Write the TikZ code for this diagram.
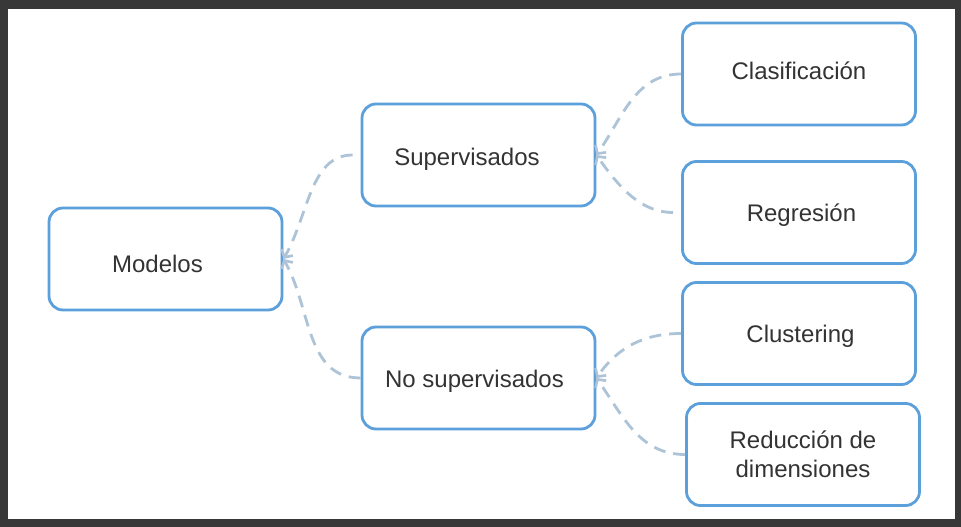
\documentclass[tikz,border=0pt]{standalone}
\usepackage{fontspec}
\setmainfont{Liberation Sans}
\usetikzlibrary{arrows.meta}
\definecolor{framec}{HTML}{383838}
\definecolor{boxblue}{HTML}{5B9FDB}
\definecolor{connc}{HTML}{ADC3D8}
\definecolor{txt}{HTML}{333333}
\begin{document}
\begin{tikzpicture}[x=1pt,y=-1pt,
  box/.style={draw=boxblue, line width=2.8pt, rounded corners=14pt, fill=white,
    minimum width=233pt, minimum height=102pt, inner sep=0pt},
  lbl/.style={font=\fontsize{24}{29}\selectfont, text=txt, align=center, inner sep=0pt, anchor=base},
  link/.style={draw=connc, line width=2.8pt, dash pattern=on 12pt off 8pt,
    -{Straight Barb[length=6pt,width=13pt,line width=2.6pt]}}]
\useasboundingbox (0,0) rectangle (961,527);
\fill[framec] (0,0) rectangle (961,527);
\fill[white] (8,9) rectangle (955,519);
% boxes
\node[box] (mod) at (165.5,259) {};
\node[box] (sup) at (478.5,155) {};
\node[box] (nosup) at (478.5,378) {};
\node[box] (clas) at (799,74) {};
\node[box] (reg) at (799,212.5) {};
\node[box] (clus) at (799,333.5) {};
\node[box] (red) at (803,454.5) {};
% labels
\node[lbl] (modt) at (157.5,272) {Modelos};
\node[lbl] (supt) at (467,165) {Supervisados};
\node[lbl] (nosupt) at (474.5,387) {No supervisados};
\node[lbl] (clast) at (799,80) {Clasificación};
\node[lbl] (regt) at (801.5,221) {Regresión};
\node[lbl] (clust) at (800.5,342) {Clustering};
\node[lbl, anchor=north] (redt) at (803,431) {Reducción de\\dimensiones};
% connectors
\draw[link, shorten <=8pt] (sup.west) to[out=180,in=60] (mod.east);
\draw[link] (nosup.west) to[out=180,in=-60] (mod.east);
\draw[link] (clas.west) to[out=180,in=55] (sup.east);
\draw[link, shorten <=8pt] (reg.west) to[out=180,in=-55] (sup.east);
\draw[link] (clus.west) to[out=180,in=55] (nosup.east);
\draw[link] (red.west) to[out=180,in=-55] (nosup.east);
\end{tikzpicture}
\end{document}
